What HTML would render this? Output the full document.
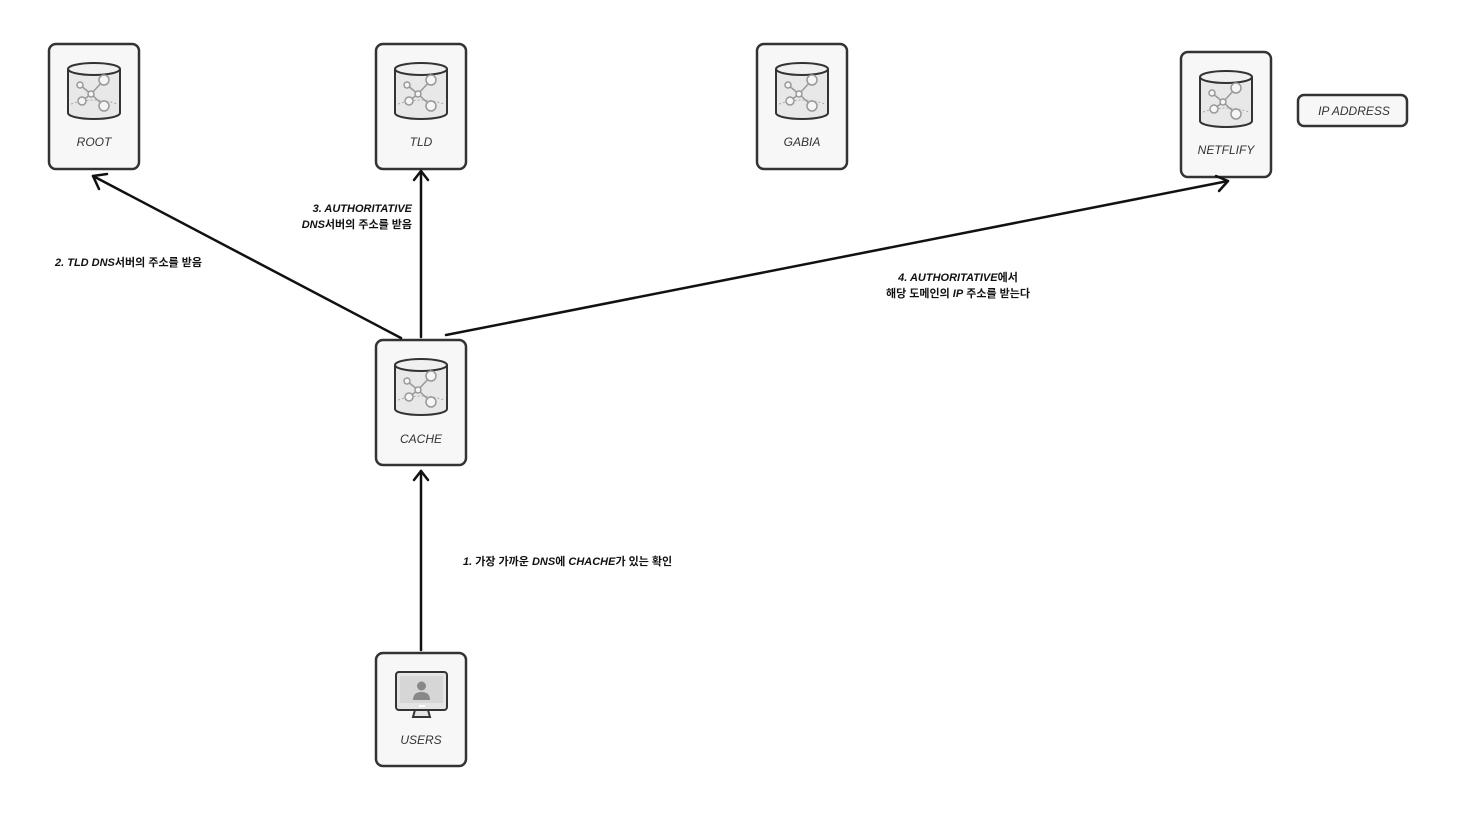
<!DOCTYPE html>
<html><head><meta charset="utf-8"><style>
html,body{margin:0;padding:0;background:#fff;}
svg{display:block;}
text{font-family:"Liberation Sans","Noto Sans CJK KR",sans-serif;}
.lbl{font-size:12px;fill:#333;font-style:italic;text-anchor:middle;}
.t{font-size:11px;fill:#111;font-weight:bold;}
</style></head><body>
<svg width="1463" height="834" viewBox="0 0 1463 834" xmlns="http://www.w3.org/2000/svg">
<defs>
<g id="db">
 <path d="M19,25 L19,69 A26,6 0 0 0 71,69 L71,25" fill="#e8e8e8" stroke="#333" stroke-width="2"/>
 <ellipse cx="45" cy="25" rx="26" ry="6" fill="#f0f0f0" stroke="#333" stroke-width="2"/>
 <path d="M22,60 Q45,52 68,60" fill="none" stroke="#aaa" stroke-width="1" stroke-dasharray="2,2"/>
 <g stroke="#999" stroke-width="1.5" fill="#f5f5f5">
  <line x1="31" y1="41" x2="42" y2="50"/><line x1="42" y1="50" x2="55" y2="36"/><line x1="42" y1="50" x2="33" y2="57"/><line x1="42" y1="50" x2="55" y2="62"/>
  <circle cx="31" cy="41" r="3"/><circle cx="55" cy="36" r="5"/><circle cx="42" cy="50" r="3"/><circle cx="33" cy="57" r="4"/><circle cx="55" cy="62" r="5"/>
 </g>
</g>
</defs>
<g fill="#f6f7f6" stroke="#333" stroke-width="2.5">
 <rect x="49" y="44" width="90" height="125" rx="7"/>
 <rect x="376" y="44" width="90" height="125" rx="7"/>
 <rect x="757" y="44" width="90" height="125" rx="7"/>
 <rect x="1181" y="52" width="90" height="125" rx="7"/>
 <rect x="376" y="340" width="90" height="125" rx="7"/>
 <rect x="376" y="653" width="90" height="113" rx="7"/>
 <rect x="1298" y="95" width="109" height="31" rx="6"/>
</g>
<use href="#db" x="49" y="44"/>
<use href="#db" x="376" y="44"/>
<use href="#db" x="757" y="44"/>
<use href="#db" x="1181" y="52"/>
<use href="#db" x="376" y="340"/>
<g>
 <rect x="396" y="672" width="51" height="38" rx="3" fill="#e4e4e4" stroke="#333" stroke-width="2"/>
 <rect x="400" y="676" width="43" height="27" fill="#d6d6d6"/>
 <circle cx="421.5" cy="686" r="4.5" fill="#888"/>
 <path d="M413,700 Q413,692 421.5,692 Q430,692 430,700 Z" fill="#888"/>
 <path d="M415,710 L428,710 L430,717 L413,717 Z" fill="#e4e4e4" stroke="#333" stroke-width="2"/>
 <line x1="419" y1="706" x2="425" y2="706" stroke="#fff" stroke-width="2"/>
</g>
<text class="lbl" x="94" y="146">ROOT</text>
<text class="lbl" x="421" y="146">TLD</text>
<text class="lbl" x="802" y="146">GABIA</text>
<text class="lbl" x="1226" y="154">NETFLIFY</text>
<text class="lbl" x="421" y="443">CACHE</text>
<text class="lbl" x="421" y="744">USERS</text>
<text class="lbl" x="1354" y="115">IP ADDRESS</text>
<g stroke="#111" stroke-width="2.5" fill="none" stroke-linecap="round" stroke-linejoin="round">
 <line x1="401" y1="338" x2="93" y2="176"/><path d="M99,189 L93,176 L107,174"/>
 <line x1="421" y1="337" x2="421" y2="171"/><path d="M414,180 L421,171 L428,180"/>
 <line x1="446" y1="335" x2="1228" y2="181"/><path d="M1216,176 L1228,181 L1219,191"/>
 <line x1="421" y1="650" x2="421" y2="471"/><path d="M414,480 L421,471 L428,480"/>
</g>
<text class="t" x="55" y="266"><tspan font-style="italic">2. TLD DNS</tspan>서버의 주소를 받음</text>
<text class="t" x="412" y="212" text-anchor="end" font-style="italic">3. AUTHORITATIVE</text>
<text class="t" x="412" y="228" text-anchor="end"><tspan font-style="italic">DNS</tspan>서버의 주소를 받음</text>
<text class="t" x="958" y="281" text-anchor="middle"><tspan font-style="italic">4. AUTHORITATIVE</tspan>에서</text>
<text class="t" x="958" y="297" text-anchor="middle">해당 도메인의 <tspan font-style="italic">IP</tspan> 주소를 받는다</text>
<text class="t" x="463" y="565"><tspan font-style="italic">1. </tspan>가장 가까운 <tspan font-style="italic">DNS</tspan>에 <tspan font-style="italic">CHACHE</tspan>가 있는 확인</text>
</svg>
</body></html>
